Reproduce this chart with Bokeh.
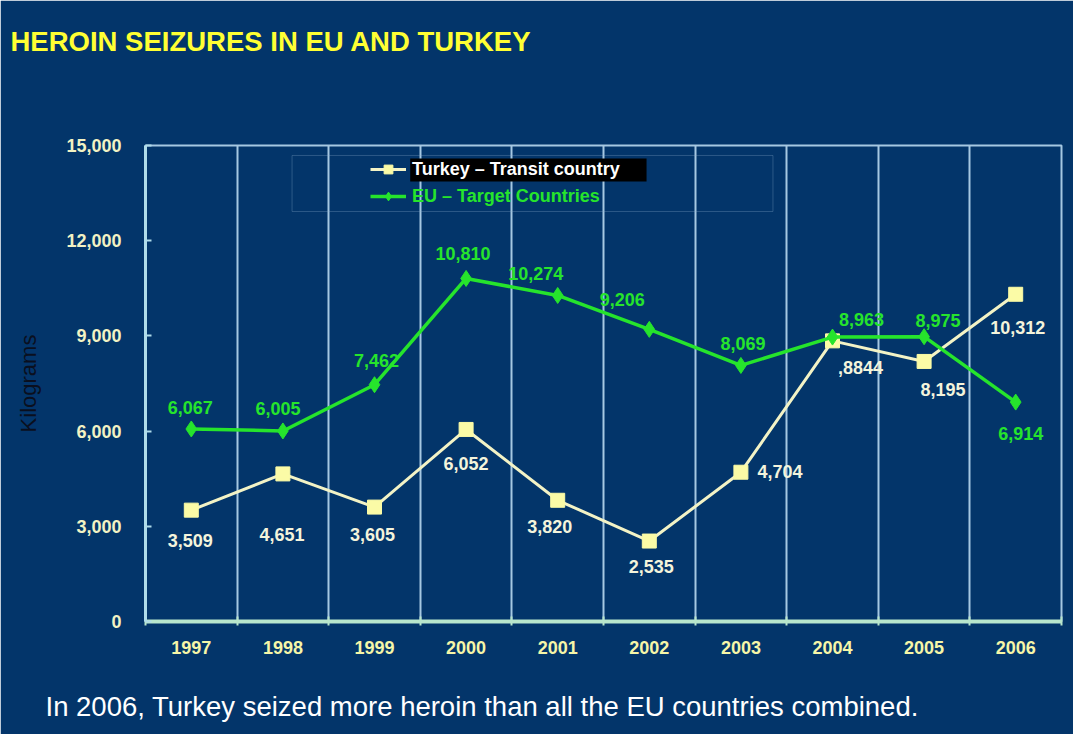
from bokeh.plotting import figure
from bokeh.models import (ColumnDataSource, LabelSet, FixedTicker, NumeralTickFormatter,
                          Range1d, Legend, LegendItem, BoxAnnotation, Title)
from bokeh.core.properties import value
from bokeh.embed import file_html
from bokeh.resources import INLINE

# ---- data ----
years = [1997, 1998, 1999, 2000, 2001, 2002, 2003, 2004, 2005, 2006]
year_labels = ["1997", "1998", "1999", "2000", "2001", "2002", "2003", "2004", "2005", "2006"]
turkey = [3509, 4651, 3605, 6052, 3820, 2535, 4704, 8844, 8195, 10312]
turkey_text = ["3,509", "4,651", "3,605", "6,052", "3,820", "2,535", "4,704", ",8844", "8,195", "10,312"]
eu = [6067, 6005, 7462, 10810, 10274, 9206, 8069, 8963, 8975, 6914]
eu_text = ["6,067", "6,005", "7,462", "10,810", "10,274", "9,206", "8,069", "8,963", "8,975", "6,914"]
y_ticks = [0, 3000, 6000, 9000, 12000, 15000]

# label offsets (pixels; style only)
turkey_dx = [-1, -1, -2, 0, -8, 2, 39, 28, 19, 2]
turkey_dy = [-30, -61, -27, -34, -26, -25, 1, -27, -28, -33]
eu_dx = [-1, -5, 2, -3, -22, -27, 2, 29, 14, 5]
eu_dy = [21, 22, 24, 25, 22, 30, 22, 18, 16, -31]

BG = "#03356a"
GRID = "#a6c8e2"
T_LINE = "#f3f3c6"
T_FILL = "#fbfba6"
EU_C = "#26e42c"
FONT = "Liberation Sans"

src = ColumnDataSource(dict(x=years, t=turkey, tt=turkey_text, e=eu, et=eu_text,
                            tdx=turkey_dx, tdy=turkey_dy, edx=eu_dx, edy=eu_dy))

p = figure(width=1073, height=734, output_backend="svg", toolbar_location=None,
           x_range=Range1d(1996.5, 2006.5), y_range=Range1d(0, 15000),
           min_border_left=145, min_border_right=12, min_border_top=145, min_border_bottom=113,
           background_fill_color=BG, border_fill_color=BG)

p.outline_line_color = GRID
p.outline_line_width = 2

# grid
p.ygrid.visible = False
p.xgrid.ticker = FixedTicker(ticks=[y + 0.5 for y in years[:-1]])
p.xgrid.grid_line_color = GRID
p.xgrid.grid_line_width = 2

# x axis
p.xaxis.ticker = FixedTicker(ticks=years, minor_ticks=[y - 0.5 for y in years] + [years[-1] + 0.5])
p.xaxis.major_label_overrides = {y: l for y, l in zip(years, year_labels)}
p.xaxis.major_tick_line_color = None
p.xaxis.minor_tick_in = 5
p.xaxis.minor_tick_out = 4
p.xaxis.minor_tick_line_color = "#b8e6cc"
p.xaxis.minor_tick_line_width = 2
p.xaxis.axis_line_color = "#b8e6cc"
p.xaxis.axis_line_width = 4
p.xaxis.major_label_text_color = "#f6f6a8"
p.xaxis.major_label_text_font = FONT
p.xaxis.major_label_text_font_style = "bold"
p.xaxis.major_label_text_font_size = "18px"
p.xaxis.major_label_standoff = 13

# y axis
p.yaxis.ticker = FixedTicker(ticks=y_ticks)
p.yaxis.formatter = NumeralTickFormatter(format="0,0")
p.yaxis.minor_tick_line_color = None
p.yaxis.major_tick_in = 6
p.yaxis.major_tick_out = 0
p.yaxis.major_tick_line_color = "#b0dcea"
p.yaxis.major_tick_line_width = 2
p.yaxis.axis_line_color = "#b0dcea"
p.yaxis.axis_line_width = 3
p.yaxis.major_label_text_color = "#f2f2c4"
p.yaxis.major_label_text_font = FONT
p.yaxis.major_label_text_font_style = "bold"
p.yaxis.major_label_text_font_size = "18px"
p.yaxis.major_label_standoff = 24
p.yaxis.axis_label = "Kilograms"
p.yaxis.axis_label_text_color = "#0a0f1e"
p.yaxis.axis_label_text_font = FONT
p.yaxis.axis_label_text_font_style = "normal"
p.yaxis.axis_label_text_font_size = "22px"
p.yaxis.axis_label_standoff = 22

# series
tl = p.line("x", "t", source=src, line_color=T_LINE, line_width=3)
ts = p.scatter("x", "t", source=src, marker="square", size=14, fill_color=T_FILL, line_color=T_FILL)
el = p.line("x", "e", source=src, line_color=EU_C, line_width=3.5)
es = p.scatter("x", "e", source=src, marker="diamond", size=16, fill_color=EU_C, line_color=EU_C)

p.add_layout(LabelSet(x="x", y="t", text="tt", source=src, x_offset="tdx", y_offset="tdy",
                      text_align="center", text_baseline="middle", text_color="#f4f4dc",
                      text_font=value(FONT), text_font_style="bold", text_font_size="18px"))
p.add_layout(LabelSet(x="x", y="e", text="et", source=src, x_offset="edx", y_offset="edy",
                      text_align="center", text_baseline="middle", text_color=EU_C,
                      text_font=value(FONT), text_font_style="bold", text_font_size="18px"))

# legend frame and black label background
p.add_layout(BoxAnnotation(left=1998.10, right=2003.35, bottom=12921, top=14686,
                           fill_alpha=0, line_color="#8fb0cc", line_width=1))
p.add_layout(BoxAnnotation(left=1999.39, right=2001.97, bottom=13867, top=14592,
                           fill_color="black", fill_alpha=1, line_alpha=0))

def make_legend(label, rends, color, loc):
    lg = Legend(items=[LegendItem(label=label, renderers=rends)], location=loc,
                background_fill_alpha=0, border_line_alpha=0, padding=0, margin=0,
                glyph_width=36, glyph_height=22, label_standoff=6, label_height=22,
                spacing=0, label_text_font=FONT, label_text_font_style="bold",
                label_text_font_size="18px", label_text_color=color)
    return lg

p.add_layout(make_legend("Turkey – Transit country", [tl, ts], "white", (225, 441)))
p.add_layout(make_legend("EU – Target Countries", [el, es], EU_C, (225, 414)))

# title and footnote (extra blank lines push them away from the frame)
p.add_layout(Title(text="HEROIN SEIZURES IN EU AND TURKEY\n\n", align="left", offset=-135,
                   standoff=28, text_line_height=1.2, text_color="#ffff33", text_font=FONT,
                   text_font_style="bold", text_font_size="27.5px"), "above")
p.add_layout(Title(text="\nIn 2006, Turkey seized more heroin than all the EU countries combined.",
                   align="left", offset=-100, standoff=0, text_line_height=1.05,
                   text_color="white", text_font=FONT,
                   text_font_style="normal", text_font_size="27.5px"), "below")

open("out.html", "w").write(file_html(p, INLINE))
